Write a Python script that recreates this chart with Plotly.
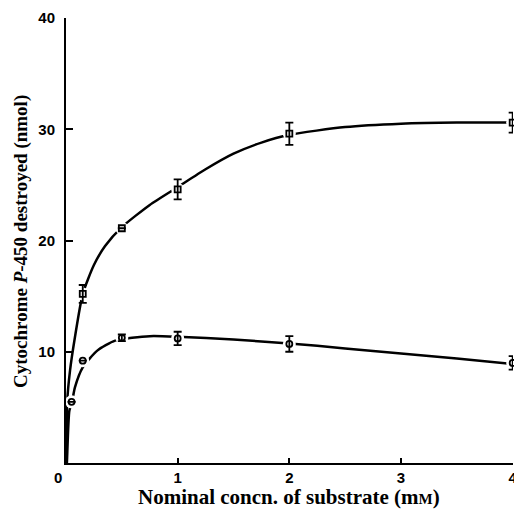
import plotly.graph_objects as go

conc_upper = [0.15, 0.5, 1.0, 2.0, 4.0]
destroyed_upper = [15.2, 21.1, 24.6, 29.6, 30.6]
err_upper = [0.8, 0.0, 0.9, 1.0, 0.9]

conc_lower = [0.05, 0.15, 0.5, 1.0, 2.0, 4.0]
destroyed_lower = [5.5, 9.2, 11.25, 11.2, 10.7, 9.0]
err_lower = [0.0, 0.0, 0.3, 0.6, 0.7, 0.6]

# Hand-drawn fitted curves
fit_x_upper = [0.005, 0.01, 0.036, 0.08, 0.15, 0.25, 0.35, 0.5, 0.75, 1.0, 1.25, 1.5, 1.75, 2.0, 2.5, 3.0, 3.5, 4.0]
fit_y_upper = [0.0, 5.4, 8.3, 11.3, 15.2, 17.8, 19.5, 21.2, 23.2, 24.8, 26.4, 27.8, 28.8, 29.5, 30.2, 30.5, 30.6, 30.6]
fit_x_lower = [0.008, 0.01, 0.03, 0.054, 0.08, 0.15, 0.28, 0.44, 0.75, 1.0, 1.5, 2.0, 2.5, 3.0, 3.5, 4.0]
fit_y_lower = [0.0, 0.5, 4.7, 5.5, 6.8, 8.6, 10.1, 11.0, 11.4, 11.35, 11.1, 10.75, 10.3, 9.85, 9.4, 8.9]

x_ticks = [1, 2, 3, 4]
y_ticks = [10, 20, 30, 40]

fig = go.Figure()
fig.add_trace(go.Scatter(x=fit_x_upper, y=fit_y_upper, mode="lines",
                         line=dict(color="black", width=2.5, shape="spline", smoothing=0.6),
                         hoverinfo="skip", cliponaxis=False))
fig.add_trace(go.Scatter(x=fit_x_lower, y=fit_y_lower, mode="lines",
                         line=dict(color="black", width=2.5, shape="spline", smoothing=0.6),
                         hoverinfo="skip", cliponaxis=False))
# white halos breaking the curves around the points
for xs, ys in [(conc_upper, destroyed_upper), (conc_lower, destroyed_lower)]:
    fig.add_trace(go.Scatter(x=xs, y=ys, mode="markers",
                             marker=dict(symbol="circle", size=13, color="white", line=dict(width=0)),
                             hoverinfo="skip", cliponaxis=False))
fig.add_trace(go.Scatter(x=conc_upper, y=destroyed_upper, mode="markers",
                         marker=dict(symbol="square-open", size=6, color="black", line=dict(width=1.8)),
                         error_y=dict(type="data", array=err_upper, color="black", thickness=1.8, width=4),
                         cliponaxis=False))
fig.add_trace(go.Scatter(x=conc_lower, y=destroyed_lower, mode="markers",
                         marker=dict(symbol="circle-open", size=6, color="black", line=dict(width=1.8)),
                         error_y=dict(type="data", array=err_lower, color="black", thickness=1.8, width=4),
                         cliponaxis=False))

tick_font = dict(family="Liberation Sans", size=15, color="black", weight="bold")
ytitle_font = dict(family="Liberation Serif", size=19, color="black", weight="bold")
xtitle_font = dict(family="Liberation Serif", size=21, color="black", weight="bold")

fig.update_layout(
    width=514, height=510,
    margin=dict(l=66, r=1, t=18, b=47, autoexpand=False),
    paper_bgcolor="white", plot_bgcolor="white",
    showlegend=False,
    xaxis=dict(range=[0, 4.003], showgrid=False, zeroline=False, showline=True,
               linecolor="black", linewidth=2, ticks="inside", ticklen=5, tickwidth=2,
               tickcolor="black", tickvals=x_ticks, ticktext=[str(v) for v in x_ticks],
               tickfont=tick_font, automargin=False, ticklabeloverflow="allow"),
    yaxis=dict(range=[0, 40], showgrid=False, zeroline=False, showline=True,
               linecolor="black", linewidth=2, ticks="inside", ticklen=7, tickwidth=2,
               tickcolor="black", tickvals=y_ticks, ticktext=[str(v) for v in y_ticks],
               tickfont=tick_font, ticklabelstandoff=6, automargin=False),
)
fig.add_annotation(x=0, y=0, xref="x", yref="y", text="0", showarrow=False,
                   font=tick_font, xshift=-8, yshift=-14)
fig.add_annotation(xref="paper", yref="paper", x=(289 - 66) / 447, y=-(497 - 463) / 445,
                   text="Nominal concn. of substrate (m<span style='font-size:15px'>M</span>)",
                   showarrow=False, font=xtitle_font, xanchor="center", yanchor="middle")
fig.add_annotation(xref="paper", yref="paper", x=-(66 - 21) / 447, y=(463 - 242) / 445,
                   text="Cytochrome <i>P</i>-450 destroyed (nmol)", textangle=-90,
                   showarrow=False, font=ytitle_font, xanchor="center", yanchor="middle")

fig.write_html("out.html", post_script="document.body.style.margin='0';",
               config={"displayModeBar": False})
